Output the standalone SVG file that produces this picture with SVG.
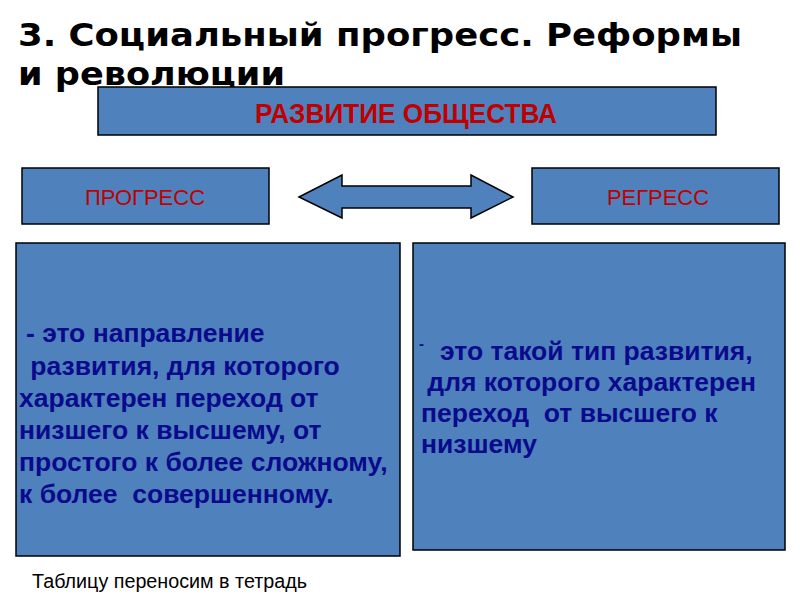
<svg xmlns="http://www.w3.org/2000/svg" width="800" height="600" viewBox="0 0 800 600">
<style>
.box{fill:#4f81bd;stroke:#000;stroke-width:1.5}
.title{font-family:"DejaVu Sans",sans-serif;font-weight:bold;font-size:32px;fill:#000}
.red{font-family:"Liberation Sans",Arial,sans-serif;fill:#c00000;text-anchor:middle}
.body{font-family:"Liberation Sans",Arial,sans-serif;font-weight:bold;font-size:26.5px;fill:#0a0a8c;white-space:pre}
.note{font-family:"Liberation Sans",Arial,sans-serif;font-size:19.5px;fill:#000}
</style>
<rect width="800" height="600" fill="#fff"/>
<g id="title">
<text class="title" x="18" y="46" textLength="724" lengthAdjust="spacingAndGlyphs">3. Социальный прогресс. Реформы</text>
<text class="title" x="18" y="85" textLength="267" lengthAdjust="spacingAndGlyphs">и революции</text>
</g>
<g id="razvitie">
<rect class="box" x="98" y="87" width="618" height="48"/>
<text class="red" x="406" y="123" font-size="27" font-weight="bold" textLength="302" lengthAdjust="spacingAndGlyphs">РАЗВИТИЕ ОБЩЕСТВА</text>
</g>
<g id="progress">
<rect class="box" x="22" y="168" width="247" height="56"/>
<text class="red" x="145" y="205" font-size="21.5" textLength="120" lengthAdjust="spacingAndGlyphs">ПРОГРЕСС</text>
</g>
<g id="regress">
<rect class="box" x="532" y="168" width="247" height="56"/>
<text class="red" x="658" y="205" font-size="21.5" textLength="102" lengthAdjust="spacingAndGlyphs">РЕГРЕСС</text>
</g>
<g id="connectors">
<polygon class="box" stroke-width="1.2" points="299,197 342,175 342,186 471,186 471,175 513,197 471,218 471,208 342,208 342,218"/>
</g>
<g id="progress-def">
<rect class="box" x="16" y="243" width="384" height="313"/>
<text class="body"><tspan x="26" y="342">- это направление</tspan><tspan x="23" y="375"> развития, для которого</tspan><tspan x="19" y="407">характерен переход от</tspan><tspan x="19" y="439">низшего к высшему, от</tspan><tspan x="19" y="471">простого к более сложному,</tspan><tspan x="19" y="503">к более  совершенному.</tspan></text>
</g>
<g id="regress-def">
<rect class="box" x="413" y="243" width="372" height="307"/>
<text class="body"><tspan x="419" y="349" font-size="15">-</tspan><tspan x="440" y="360">это такой тип развития,</tspan><tspan x="420" y="391"> для которого характерен</tspan><tspan x="421" y="422">переход  от высшего к</tspan><tspan x="421" y="453">низшему</tspan></text>
</g>
<g id="note">
<text class="note" x="32" y="588" textLength="275" lengthAdjust="spacingAndGlyphs">Таблицу переносим в тетрадь</text>
</g>
</svg>
